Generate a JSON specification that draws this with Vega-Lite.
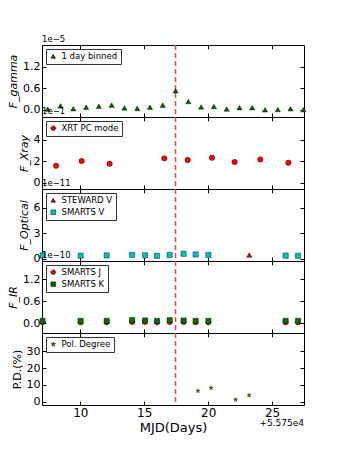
{
  "$schema": "https://vega.github.io/schema/vega-lite/v6.json",
  "autosize": {"type": "pad"},
  "padding": {"left": 7, "top": 34, "right": 34, "bottom": 10},
  "background": "white",
  "spacing": 0,
  "bounds": "flush",
  "config": {
    "font": "DejaVu Sans",
    "view": {"stroke": "black", "strokeWidth": 1},
    "axis": {"grid": false, "domain": false, "tickColor": "black", "tickSize": -4, "labelPadding": 6, "labelFont": "DejaVu Sans", "labelFontSize": 11, "labelColor": "black", "titleFont": "DejaVu Sans", "titleFontWeight": "normal", "titleColor": "black"},
    "legend": {"orient": "top-left", "offset": 4, "strokeColor": "#333", "fillColor": "white", "padding": 3, "cornerRadius": 0, "labelFont": "DejaVu Sans", "labelFontSize": 8.5, "labelColor": "black", "symbolSize": 22, "symbolStrokeColor": "black", "symbolStrokeWidth": 0.5, "rowPadding": 3, "title": null}
  },
  "resolve": {"scale": {"color": "independent", "shape": "independent", "x": "independent", "y": "independent"}, "legend": {"color": "independent", "shape": "independent"}},
  "datasets": {
    "one": [{}],
    "gamma": [
      {"mjd": 7.45, "flux": 0.02, "series": "1 day binned"},
      {"mjd": 8.45, "flux": 0.11, "series": "1 day binned"},
      {"mjd": 9.45, "flux": 0.03, "series": "1 day binned"},
      {"mjd": 10.45, "flux": 0.07, "series": "1 day binned"},
      {"mjd": 11.45, "flux": 0.10, "series": "1 day binned"},
      {"mjd": 12.45, "flux": 0.13, "series": "1 day binned"},
      {"mjd": 13.45, "flux": 0.05, "series": "1 day binned"},
      {"mjd": 14.45, "flux": 0.04, "series": "1 day binned"},
      {"mjd": 15.45, "flux": 0.07, "series": "1 day binned"},
      {"mjd": 16.45, "flux": 0.13, "series": "1 day binned"},
      {"mjd": 17.45, "flux": 0.53, "series": "1 day binned"},
      {"mjd": 18.45, "flux": 0.23, "series": "1 day binned"},
      {"mjd": 19.45, "flux": 0.08, "series": "1 day binned"},
      {"mjd": 20.45, "flux": 0.09, "series": "1 day binned"},
      {"mjd": 21.45, "flux": 0.02, "series": "1 day binned"},
      {"mjd": 22.45, "flux": 0.06, "series": "1 day binned"},
      {"mjd": 23.45, "flux": 0.06, "series": "1 day binned"},
      {"mjd": 24.45, "flux": 0.0, "series": "1 day binned"},
      {"mjd": 25.45, "flux": 0.01, "series": "1 day binned"},
      {"mjd": 26.45, "flux": 0.03, "series": "1 day binned"},
      {"mjd": 27.45, "flux": 0.0, "series": "1 day binned"}
    ],
    "xray": [
      {"mjd": 8.10, "flux": 1.57, "series": "XRT PC mode"},
      {"mjd": 10.10, "flux": 2.00, "series": "XRT PC mode"},
      {"mjd": 12.29, "flux": 1.75, "series": "XRT PC mode"},
      {"mjd": 16.57, "flux": 2.25, "series": "XRT PC mode"},
      {"mjd": 18.40, "flux": 2.09, "series": "XRT PC mode"},
      {"mjd": 20.30, "flux": 2.30, "series": "XRT PC mode"},
      {"mjd": 22.07, "flux": 1.91, "series": "XRT PC mode"},
      {"mjd": 24.08, "flux": 2.15, "series": "XRT PC mode"},
      {"mjd": 26.28, "flux": 1.84, "series": "XRT PC mode"}
    ],
    "optical": [
      {"mjd": 23.22, "flux": 0.45, "series": "STEWARD V"},
      {"mjd": 7.05, "flux": 0.40, "series": "SMARTS V"},
      {"mjd": 10.02, "flux": 0.38, "series": "SMARTS V"},
      {"mjd": 12.06, "flux": 0.40, "series": "SMARTS V"},
      {"mjd": 14.05, "flux": 0.45, "series": "SMARTS V"},
      {"mjd": 15.06, "flux": 0.42, "series": "SMARTS V"},
      {"mjd": 16.00, "flux": 0.36, "series": "SMARTS V"},
      {"mjd": 16.99, "flux": 0.45, "series": "SMARTS V"},
      {"mjd": 18.08, "flux": 0.60, "series": "SMARTS V"},
      {"mjd": 19.02, "flux": 0.52, "series": "SMARTS V"},
      {"mjd": 20.02, "flux": 0.45, "series": "SMARTS V"},
      {"mjd": 26.06, "flux": 0.38, "series": "SMARTS V"},
      {"mjd": 27.03, "flux": 0.36, "series": "SMARTS V"}
    ],
    "ir": [
      {"mjd": 7.05, "flux": 0.03, "series": "SMARTS J"},
      {"mjd": 10.02, "flux": 0.03, "series": "SMARTS J"},
      {"mjd": 12.06, "flux": 0.03, "series": "SMARTS J"},
      {"mjd": 14.05, "flux": 0.04, "series": "SMARTS J"},
      {"mjd": 15.06, "flux": 0.04, "series": "SMARTS J"},
      {"mjd": 16.00, "flux": 0.03, "series": "SMARTS J"},
      {"mjd": 16.99, "flux": 0.04, "series": "SMARTS J"},
      {"mjd": 18.08, "flux": 0.04, "series": "SMARTS J"},
      {"mjd": 19.02, "flux": 0.03, "series": "SMARTS J"},
      {"mjd": 20.02, "flux": 0.03, "series": "SMARTS J"},
      {"mjd": 26.06, "flux": 0.03, "series": "SMARTS J"},
      {"mjd": 27.03, "flux": 0.03, "series": "SMARTS J"},
      {"mjd": 7.05, "flux": 0.07, "series": "SMARTS K"},
      {"mjd": 10.02, "flux": 0.07, "series": "SMARTS K"},
      {"mjd": 12.06, "flux": 0.07, "series": "SMARTS K"},
      {"mjd": 14.05, "flux": 0.09, "series": "SMARTS K"},
      {"mjd": 15.06, "flux": 0.08, "series": "SMARTS K"},
      {"mjd": 16.00, "flux": 0.07, "series": "SMARTS K"},
      {"mjd": 16.99, "flux": 0.09, "series": "SMARTS K"},
      {"mjd": 18.08, "flux": 0.08, "series": "SMARTS K"},
      {"mjd": 19.02, "flux": 0.07, "series": "SMARTS K"},
      {"mjd": 20.02, "flux": 0.07, "series": "SMARTS K"},
      {"mjd": 26.06, "flux": 0.07, "series": "SMARTS K"},
      {"mjd": 27.03, "flux": 0.07, "series": "SMARTS K"}
    ],
    "pol": [
      {"mjd": 19.20, "pd": 6.4, "series": "Pol. Degree"},
      {"mjd": 20.23, "pd": 8.2, "series": "Pol. Degree"},
      {"mjd": 22.15, "pd": 1.2, "series": "Pol. Degree"},
      {"mjd": 23.20, "pd": 3.8, "series": "Pol. Degree"}
    ]
  },
  "vconcat": [
    {
      "width": 262, "height": 72,
      "layer": [
        {"data": {"name": "one"}, "mark": {"type": "rule", "stroke": "#ff4040", "opacity": 1, "strokeDash": [5, 3], "strokeWidth": 1.5},
         "encoding": {"x": {"datum": 17.45, "type": "quantitative", "scale": {"domain": [7, 27.5], "nice": false, "zero": false}, "axis": null}}},
        {"data": {"name": "gamma"},
         "mark": {"type": "point", "filled": true, "size": 28, "stroke": "black", "strokeWidth": 0.4, "opacity": 1},
         "encoding": {
           "x": {"field": "mjd", "type": "quantitative", "axis": {"orient": "bottom", "values": [10, 15, 20, 25], "labels": false, "title": null}},
           "y": {"field": "flux", "type": "quantitative", "scale": {"domain": [-0.2, 1.8], "nice": false, "zero": false}, "axis": {"orient": "left", "values": [0, 0.6, 1.2], "format": ".1f", "title": "F_gamma", "titleFontStyle": "italic", "titleFontWeight": "normal", "titleFontSize": 11, "titlePadding": 4}},
           "color": {"field": "series", "type": "nominal", "scale": {"range": ["#006400"]}},
           "shape": {"field": "series", "type": "nominal", "scale": {"range": ["triangle-up"]}}
         }},
        {"data": {"name": "one"}, "mark": {"type": "text", "text": "1e\u22125", "align": "left", "baseline": "bottom", "dy": -1, "fontSize": 8.5, "clip": false},
         "encoding": {
           "x": {"datum": 7, "type": "quantitative", "axis": {"orient": "top", "values": [10, 15, 20, 25], "labels": false, "title": null}},
           "y": {"datum": 1.8, "type": "quantitative", "axis": {"orient": "right", "values": [0, 0.6, 1.2], "labels": false, "title": null}}
         }}
      ]
    },
    {
      "width": 262, "height": 72,
      "layer": [
        {"data": {"name": "one"}, "mark": {"type": "rule", "stroke": "#ff4040", "opacity": 1, "strokeDash": [5, 3], "strokeWidth": 1.5},
         "encoding": {"x": {"datum": 17.45, "type": "quantitative", "scale": {"domain": [7, 27.5], "nice": false, "zero": false}, "axis": null}}},
        {"data": {"name": "xray"},
         "mark": {"type": "point", "filled": true, "size": 30, "stroke": "black", "strokeWidth": 0.4, "opacity": 1},
         "encoding": {
           "x": {"field": "mjd", "type": "quantitative", "axis": {"orient": "bottom", "values": [10, 15, 20, 25], "labels": false, "title": null}},
           "y": {"field": "flux", "type": "quantitative", "scale": {"domain": [-0.6, 6.1], "nice": false, "zero": false}, "axis": {"orient": "left", "values": [0, 2, 4], "format": "d", "title": "F_Xray", "titleFontStyle": "italic", "titleFontWeight": "normal", "titleFontSize": 11, "titlePadding": 4}},
           "color": {"field": "series", "type": "nominal", "scale": {"range": ["#ff0000"]}},
           "shape": {"field": "series", "type": "nominal", "scale": {"range": ["circle"]}}
         }},
        {"data": {"name": "one"}, "mark": {"type": "text", "text": "1e\u22121", "align": "left", "baseline": "bottom", "dy": -1, "fontSize": 8.5, "clip": false},
         "encoding": {
           "x": {"datum": 7, "type": "quantitative", "axis": {"orient": "top", "values": [10, 15, 20, 25], "labels": false, "title": null}},
           "y": {"datum": 6.1, "type": "quantitative", "axis": {"orient": "right", "values": [0, 2, 4], "labels": false, "title": null}}
         }}
      ]
    },
    {
      "width": 262, "height": 72,
      "layer": [
        {"data": {"name": "one"}, "mark": {"type": "rule", "stroke": "#ff4040", "opacity": 1, "strokeDash": [5, 3], "strokeWidth": 1.5},
         "encoding": {"x": {"datum": 17.45, "type": "quantitative", "scale": {"domain": [7, 27.5], "nice": false, "zero": false}, "axis": null}}},
        {"data": {"name": "optical"},
         "mark": {"type": "point", "filled": true, "size": 28, "stroke": "black", "strokeWidth": 0.4, "opacity": 1},
         "encoding": {
           "x": {"field": "mjd", "type": "quantitative", "axis": {"orient": "bottom", "values": [10, 15, 20, 25], "labels": false, "title": null}},
           "y": {"field": "flux", "type": "quantitative", "scale": {"domain": [-0.25, 8.2], "nice": false, "zero": false}, "axis": {"orient": "left", "values": [0, 3, 6], "format": "d", "title": "F_Optical", "titleFontStyle": "italic", "titleFontWeight": "normal", "titleFontSize": 11, "titlePadding": 4}},
           "color": {"field": "series", "type": "nominal", "scale": {"domain": ["STEWARD V", "SMARTS V"], "range": ["#cc0000", "#00bfbf"]}},
           "shape": {"field": "series", "type": "nominal", "scale": {"domain": ["STEWARD V", "SMARTS V"], "range": ["triangle-up", "square"]}}
         }},
        {"data": {"name": "one"}, "mark": {"type": "text", "text": "1e\u221211", "align": "left", "baseline": "bottom", "dy": -1, "fontSize": 8.5, "clip": false},
         "encoding": {
           "x": {"datum": 7, "type": "quantitative", "axis": {"orient": "top", "values": [10, 15, 20, 25], "labels": false, "title": null}},
           "y": {"datum": 8.2, "type": "quantitative", "axis": {"orient": "right", "values": [0, 3, 6], "labels": false, "title": null}}
         }}
      ]
    },
    {
      "width": 262, "height": 72,
      "layer": [
        {"data": {"name": "one"}, "mark": {"type": "rule", "stroke": "#ff4040", "opacity": 1, "strokeDash": [5, 3], "strokeWidth": 1.5},
         "encoding": {"x": {"datum": 17.45, "type": "quantitative", "scale": {"domain": [7, 27.5], "nice": false, "zero": false}, "axis": null}}},
        {"data": {"name": "ir"},
         "mark": {"type": "point", "filled": true, "size": 28, "stroke": "black", "strokeWidth": 0.4, "opacity": 1},
         "encoding": {
           "x": {"field": "mjd", "type": "quantitative", "axis": {"orient": "bottom", "values": [10, 15, 20, 25], "labels": false, "title": null}},
           "y": {"field": "flux", "type": "quantitative", "scale": {"domain": [-0.26, 1.7], "nice": false, "zero": false}, "axis": {"orient": "left", "values": [0, 0.6, 1.2], "format": ".1f", "title": "F_IR", "titleFontStyle": "italic", "titleFontWeight": "normal", "titleFontSize": 11, "titlePadding": 4}},
           "color": {"field": "series", "type": "nominal", "scale": {"domain": ["SMARTS J", "SMARTS K"], "range": ["#ff0000", "#007000"]}},
           "shape": {"field": "series", "type": "nominal", "scale": {"domain": ["SMARTS J", "SMARTS K"], "range": ["circle", "square"]}}
         }},
        {"data": {"name": "one"}, "mark": {"type": "text", "text": "1e\u221210", "align": "left", "baseline": "bottom", "dy": -1, "fontSize": 8.5, "clip": false},
         "encoding": {
           "x": {"datum": 7, "type": "quantitative", "axis": {"orient": "top", "values": [10, 15, 20, 25], "labels": false, "title": null}},
           "y": {"datum": 1.7, "type": "quantitative", "axis": {"orient": "right", "values": [0, 0.6, 1.2], "labels": false, "title": null}}
         }}
      ]
    },
    {
      "width": 262, "height": 72,
      "layer": [
        {"data": {"name": "one"}, "mark": {"type": "rule", "stroke": "#ff4040", "opacity": 1, "strokeDash": [5, 3], "strokeWidth": 1.5},
         "encoding": {"x": {"datum": 17.45, "type": "quantitative", "scale": {"domain": [7, 27.5], "nice": false, "zero": false}, "axis": null}}},
        {"data": {"name": "pol"},
         "mark": {"type": "point", "filled": true, "size": 22, "stroke": "black", "strokeWidth": 0.3, "opacity": 1},
         "encoding": {
           "x": {"field": "mjd", "type": "quantitative", "axis": {"orient": "bottom", "values": [10, 15, 20, 25], "format": "d", "labelFontSize": 12, "title": "MJD(Days)", "titleFontWeight": "normal", "titleFontSize": 13, "titlePadding": 3}},
           "y": {"field": "pd", "type": "quantitative", "scale": {"domain": [-2, 41], "nice": false, "zero": false}, "axis": {"orient": "left", "values": [0, 10, 20, 30], "format": "d", "title": "P.D.(%)", "titleFontWeight": "normal", "titleFontSize": 11, "titlePadding": 4}},
           "color": {"field": "series", "type": "nominal", "scale": {"range": ["#6b6b00"]}},
           "shape": {"field": "series", "type": "nominal", "scale": {"range": ["M0,-1L0.24,-0.33L0.95,-0.31L0.38,0.12L0.59,0.81L0,0.4L-0.59,0.81L-0.38,0.12L-0.95,-0.31L-0.24,-0.33Z"]}}
         }},
        {"data": {"name": "one"}, "mark": {"type": "text", "text": "+5.575e4", "align": "right", "baseline": "middle", "dy": 18, "fontSize": 9, "clip": false},
         "encoding": {
           "x": {"datum": 27.5, "type": "quantitative", "axis": {"orient": "top", "values": [10, 15, 20, 25], "labels": false, "title": null}},
           "y": {"datum": -2, "type": "quantitative", "axis": {"orient": "right", "values": [0, 10, 20, 30], "labels": false, "title": null}}
         }}
      ]
    }
  ]
}
